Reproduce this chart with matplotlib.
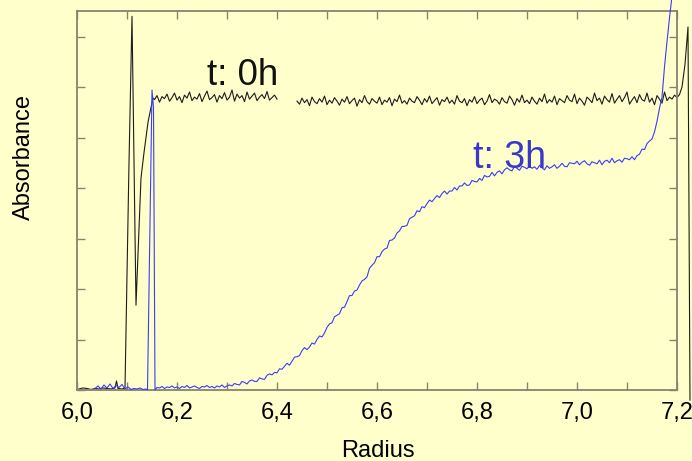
import numpy as np
import matplotlib
matplotlib.use("Agg")
import matplotlib.pyplot as plt
from matplotlib.ticker import MultipleLocator, FuncFormatter

plt.rcParams['font.family'] = ['Liberation Sans', 'DejaVu Sans']

# ---------------- data (absorbance in milli-units) -------------
# t = 0h, structural points at the meniscus
t0_pre_r = [6.004, 6.012, 6.020, 6.028, 6.036, 6.044, 6.052, 6.060, 6.068, 6.076,
            6.079, 6.082, 6.090, 6.096, 6.104, 6.110, 6.118, 6.128, 6.134, 6.142,
            6.146, 6.152]
t0_pre_v = [2, 4, 3, 1, 3, 2, 4, 3, 2, 4,
            18, 3, 2, 4, 450, 740, 168, 420, 470, 530,
            550, 578]
# plateau part A: 6.155 .. 6.400, step 0.005
t0_a_start, t0_a_step = 6.155, 0.005
t0_a_v = [575, 583, 570, 581, 577, 586, 572, 579, 588, 574,
          581, 569, 584, 578, 590, 573, 580, 576, 587, 571,
          582, 592, 575, 579, 585, 570, 583, 577, 589, 574,
          580, 594, 572, 586, 578, 583, 571, 590, 576, 582,
          588, 573, 580, 585, 577, 591, 574, 579, 584, 576]
# plateau part B: 6.440 .. 7.200, step 0.005
t0_b_start, t0_b_step = 6.440, 0.005
t0_b_v = [572, 566, 578, 569, 575, 563, 580, 571, 567, 577,
          570, 582, 565, 574, 568, 579, 572, 564, 576, 570,
          581, 567, 573, 578, 562, 575, 569, 583, 571, 566,
          577, 572, 568, 580, 565, 574, 570, 579, 563, 576,
          571, 584, 568, 573, 566, 578, 572, 569, 581, 574,
          565, 577, 570, 582, 567, 573, 579, 564, 575, 571,
          580, 568, 574, 566, 583, 572, 569, 577, 563, 575,
          570, 581, 567, 574, 578, 565, 572, 585, 569, 576,
          573, 566, 579, 571, 568, 582, 575, 564, 577, 570,
          584, 569, 574, 567, 580, 572, 566, 578, 571, 586,
          568, 575, 570, 582, 565, 577, 573, 569, 583, 574,
          571, 586, 567, 578, 572, 564, 580, 575, 569, 588,
          573, 578, 566, 582, 575, 570, 587, 568, 576, 583,
          571, 579, 590, 566, 574, 581, 569, 585, 575, 572,
          588, 570, 578, 565, 583, 576, 568, 590, 573, 580,
          576, 584, 579]
t0_post_r = [7.205, 7.210, 7.216, 7.222, 7.226]
t0_post_v = [585, 600, 645, 719, -20]

# t = 3h
t3_pre_r = [6.036, 6.042, 6.048, 6.054, 6.060, 6.066, 6.072, 6.078, 6.084, 6.090,
            6.096, 6.102, 6.108, 6.114, 6.120, 6.126, 6.132, 6.138, 6.141, 6.150,
            6.153, 6.156, 6.160]
t3_pre_v = [3, 8, 2, 10, 4, 12, 3, 9, 5, 11,
            2, 6, 1, 3, 2, 4, 1, 2, 0, 594,
            560, 0, 5]
t3_start, t3_step = 6.165, 0.005
t3_v = [4, 7, 3, 6, 5, 8, 4, 6, 3, 7, 5, 9, 4, 6, 8, 5, 3, 7, 6, 9, 5, 7, 4, 8, 6, 10, 5, 8,
        10, 8, 13, 11, 10, 17, 15, 12, 18, 20, 17, 17, 24, 22, 21, 29, 32, 30, 35, 34,
        42, 41, 47, 53, 49, 57, 65, 66, 68, 78, 84, 80, 85, 93, 91, 100, 107, 105, 113, 124,
        131, 133, 145, 148, 151, 163, 164, 175, 187, 187, 196, 198, 208, 216, 219, 224, 241, 247, 252, 264,
        264, 274, 279, 281, 296, 297, 301, 311, 315, 324, 324, 326, 339, 342, 345, 355, 353, 363, 361, 369,
        376, 373, 379, 385, 381, 389, 394, 388, 394, 394, 401, 396, 404, 404, 410, 405, 406, 415, 413, 412,
        419, 415, 425, 422, 423, 431, 424, 431, 434, 428, 436, 440, 436, 434, 443, 439, 435, 443, 441, 438,
        444, 439, 442, 437, 445, 440, 436, 444, 439, 442, 446, 439, 443, 449, 443, 442, 450, 449, 448, 453,
        446, 451, 454, 448, 445, 452, 450, 448, 455, 446, 453, 455, 450, 459, 450, 454, 456, 451, 459, 458,
        456, 462, 456, 464, 467, 477, 476, 488, 493, 497, 511, 532, 558, 580, 640, 690, 737, 780]

x_ticks = [6.0, 6.1, 6.2, 6.3, 6.4, 6.5, 6.6, 6.7, 6.8, 6.9, 7.0, 7.1, 7.2]
labels_txt = ["t: 0h", "t: 3h"]

# ---------------- build series ----------------
def grid(start, step, n):
    return start + step * np.arange(n)

t0a_r = grid(t0_a_start, t0_a_step, len(t0_a_v))
t0b_r = grid(t0_b_start, t0_b_step, len(t0_b_v))
t3_r = grid(t3_start, t3_step, len(t3_v))

seg1_r = np.concatenate([t0_pre_r, t0a_r])
seg1_v = np.concatenate([t0_pre_v, t0_a_v]) / 1000.0
seg2_r = np.concatenate([t0b_r, t0_post_r])
seg2_v = np.concatenate([t0_b_v, t0_post_v]) / 1000.0
b_r = np.concatenate([t3_pre_r, t3_r])
b_v = np.concatenate([t3_pre_v, t3_v]) / 1000.0

BG = '#FFFFCC'
SP = '#85856f'
fig = plt.figure(figsize=(6.92, 4.61), dpi=100, facecolor=BG)
ax = fig.add_axes([77/692, 1 - 390/461, 600/692, 379/461])
ax.set_facecolor(BG)

ax.plot(b_r, b_v, color='#3b3bff', lw=0.8, clip_on=False, zorder=3)
ax.plot(seg1_r, seg1_v, color='#1c1c1c', lw=0.8, clip_on=False, zorder=2)
ax.plot(seg2_r, seg2_v, color='#1c1c1c', lw=0.8, clip_on=False, zorder=2)

ax.set_xlim(6.0, 7.2)
ax.set_ylim(0.0, 0.7505)
ax.set_xticks(x_ticks)
ax.xaxis.set_major_formatter(FuncFormatter(
    lambda v, p: (f"{v:.1f}".replace('.', ',') if round(v * 10) % 2 == 0 else "")))
ax.yaxis.set_major_locator(MultipleLocator(0.1))
ax.tick_params(axis='both', direction='in', length=6, width=1.0, color=SP,
               top=True, right=True, labelsize=17, pad=9)
ax.tick_params(axis='y', labelleft=False)
for s in ax.spines.values():
    s.set_color(SP)
    s.set_linewidth(1.3)

ax.text(6.26, 0.604, labels_txt[0], fontsize=26.5, color='#111111', va='baseline')
ax.text(6.792, 0.44, labels_txt[1], fontsize=27, color='#3838cc', va='baseline')

fig.text(378/692, 1 - 451/461, "Radius", fontsize=17, ha='center', va='center')
fig.text(24/692, 1 - 157/461, "Absorbance", fontsize=17, ha='center', va='center',
         rotation=90)

fig.savefig("out.png", dpi=100, facecolor=BG)
